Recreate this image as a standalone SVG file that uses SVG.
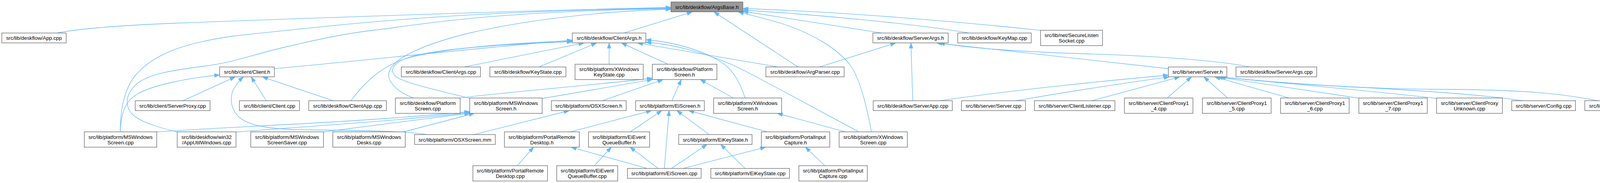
<svg xmlns="http://www.w3.org/2000/svg" width="4246" height="469" viewBox="0 0 4246 469">
<style>
.node rect{fill:#ffffff;stroke:#666666;stroke-width:1.3}
.node.hl rect{fill:#999999}
.node text{font-family:"Liberation Sans",Arial,Helvetica,sans-serif;font-size:13.3px;text-anchor:middle;fill:#000000}
.edge path{fill:none;stroke:#63b8ff;stroke-width:1.3;marker-end:url(#arr)}
</style>
<defs>
<marker id="arr" markerUnits="userSpaceOnUse" markerWidth="13.2" markerHeight="9.3" refX="13.2" refY="4.65" orient="auto" viewBox="0 0 13.2 9.3" overflow="visible">
<path d="M0,0 L13.2,4.65 L0,9.3 Z" fill="#63b8ff" stroke="#63b8ff" stroke-width="1"/>
</marker>
</defs>
<rect x="0" y="0" width="4246" height="469" fill="#ffffff"/>
<g id="edges" class="edge">
<!-- into ArgsBase.h -->
<path d="M145,84.6 C180,78 260,67 446,59.5 C700,50 1300,28 1717.7,19"/>
<path d="M307.6,337.9 C308,280 318,230 345,195 C390,140 470,110 600,92 C900,60 1150,30 1717.7,20.5"/>
<path d="M456,339 C420,330 360,315 338,292 C318,270 322,240 350,215 C380,190 440,180 520,170 C600,160 640,142 720,123 C800,104 880,86 960,77 C1100,60 1250,30 1717.7,22"/>
<path d="M1058,251.2 C1010,232 990,205 996,185 C1005,150 1080,115 1200,85 C1350,50 1550,28 1717.7,23.5"/>
<path d="M1597,84.6 L1772,30.6"/>
<path d="M2042.8,171.6 L1828,30.6"/>
<path d="M2258,84.6 L1901.8,29"/>
<path d="M2481,84.6 C2350,62 2100,38 1901.8,26"/>
<path d="M2664,77.8 C2450,55 2150,30 1901.8,22"/>
<path d="M2231,337.9 C2222,290 2205,210 2180,172 C2150,128 2080,85 2000,60 C1960,48 1920,38 1890,30.6"/>
<!-- into ClientArgs.h -->
<path d="M702.5,176 C900,158 1250,120 1465.2,103"/>
<path d="M898.3,258.2 C930,215 970,175 1030,153 C1120,125 1300,110 1465.2,105"/>
<path d="M1203,252 C1120,231 1030,212 1012,195 C995,178 1010,158 1050,146 C1120,125 1300,112 1465.2,107"/>
<path d="M1188,171.6 L1495,110.2"/>
<path d="M1380,171.6 L1527,110.2"/>
<path d="M1559.35,164.6 L1559.35,110.2"/>
<path d="M1710,164.6 L1591,110.2"/>
<path d="M1992,171.6 L1632,110.2"/>
<path d="M1907.3,251.2 C1895,210 1875,175 1840,155 C1790,126 1720,107 1653.4,102"/>
<path d="M2198.7,337.9 C2100,285 1990,225 1900,178 C1820,138 1720,112 1653.4,108.5"/>
<!-- into ServerArgs.h -->
<path d="M2098,171.6 L2293,110.2"/>
<path d="M2336.6,258.2 L2332,110.2"/>
<path d="M2991,176 L2398,110.2"/>
<path d="M3199.5,171.6 C3120,155 2950,143 2780,138 C2600,132 2470,122 2405,110.2"/>
<!-- into Client.h -->
<path d="M307.6,337.9 C310,290 320,260 350,242 C390,218 480,200 562.4,192"/>
<path d="M468.3,258.2 L602,197.2"/>
<path d="M1093,344.9 C1050,337 950,334 800,333 C700,332 640,325 612,300 C588,278 588,245 600,225 C606,215 614,205 623,197.2"/>
<path d="M681.7,258.2 L643,197.2"/>
<path d="M853,258.2 L672,197.2"/>
<!-- into PlatformScreen.h -->
<path d="M1176,251.2 C1300,236 1500,220 1670,200.5"/>
<path d="M1388,252.5 L1670,203.9"/>
<path d="M1542,258.2 L1697,204.2"/>
<path d="M1720,258.2 L1744,204.2"/>
<path d="M1877.5,251.2 L1793,204.2"/>
<!-- into Server.h -->
<path d="M2405,258.2 C2600,230 2850,205 2991,192.5"/>
<path d="M2600.5,258.2 C2750,232 2900,210 2993,197.2"/>
<path d="M2795,258.2 L3020,197.2"/>
<path d="M2988,251.2 L3050,197.2"/>
<path d="M3143,251.2 L3082,197.2"/>
<path d="M3300,251.2 L3110,197.2"/>
<path d="M3478.6,251.5 L3116,197.2"/>
<path d="M3677.6,252 C3500,232 3250,210 3120,197.2"/>
<path d="M3897,258.2 C3800,242 3600,230 3450,222 C3300,214 3180,203 3122,197.2"/>
<path d="M4090,258.2 C4000,240 3900,230 3700,229 C3450,228 3250,210 3124,197.2"/>
<!-- into MSWindowsScreen.h -->
<path d="M401.3,338 C600,324 900,315 1202.5,286"/>
<path d="M604.2,338.5 C800,322 1000,312 1202.5,288"/>
<path d="M828.1,338 L1202.5,290"/>
<path d="M1033,338 L1214,290.5"/>
<!-- into OSXScreen.h -->
<path d="M1213.3,344.9 L1457,283.5"/>
<!-- into EiScreen.h -->
<path d="M1460,337.9 L1668,283.5"/>
<path d="M1613.5,337.9 L1694,283.5"/>
<path d="M1700.7,431.6 L1713,283.5"/>
<path d="M1815.5,344.9 L1733,283.5"/>
<path d="M1964.7,337.9 L1763,283.5"/>
<!-- into XWindowsScreen.h -->
<path d="M2164,337.9 L1990,290.5"/>
<!-- into PortalRemoteDesktop.h -->
<path d="M1324.4,424.6 L1366,377.2"/>
<path d="M1657,431.6 L1462,377.2"/>
<!-- into EiEventQueueBuffer.h -->
<path d="M1521.7,424.6 L1565,377.2"/>
<path d="M1684.7,431.6 L1613,377.2"/>
<!-- into EiKeyState.h -->
<path d="M1719,431.6 L1810,370.2"/>
<path d="M1907.3,431.6 L1845,370.2"/>
<!-- into PortalInputCapture.h -->
<path d="M1749,431.6 L1960,377.2"/>
<path d="M2111.7,424.6 L2062,377.2"/>
</g>
<!-- Row A -->
<g id="n_argsbase" class="node hl"><rect x="1717.7" y="5" width="184.1" height="25.3"/><text x="1809.75" y="22.65">src/lib/deskflow/ArgsBase.h</text></g>
<!-- Row B -->
<g id="n_app" class="node"><rect x="4.6" y="84.6" width="164.8" height="25.3"/><text x="87" y="102.25">src/lib/deskflow/App.cpp</text></g>
<g id="n_clientargs_h" class="node"><rect x="1465.2" y="84.6" width="188.2" height="25.3"/><text x="1559.3" y="102.25">src/lib/deskflow/ClientArgs.h</text></g>
<g id="n_serverargs_h" class="node"><rect x="2234.5" y="84.6" width="192.9" height="25.3"/><text x="2330.95" y="102.25">src/lib/deskflow/ServerArgs.h</text></g>
<g id="n_keymap" class="node"><rect x="2451.7" y="84.6" width="188.3" height="25.3"/><text x="2545.85" y="102.25">src/lib/deskflow/KeyMap.cpp</text></g>
<g id="n_securelisten" class="node"><rect x="2663.8" y="77.6" width="158.7" height="39.3"/><text x="2743.15" y="95.25">src/lib/net/SecureListen<tspan x="2743.15" y="109.25">Socket.cpp</tspan></text></g>
<!-- Row C -->
<g id="n_client_h" class="node"><rect x="562.4" y="171.6" width="140.1" height="25.3"/><text x="632.45" y="189.25">src/lib/client/Client.h</text></g>
<g id="n_clientargs_cpp" class="node"><rect x="1027.4" y="171.6" width="202.5" height="25.3"/><text x="1128.65" y="189.25">src/lib/deskflow/ClientArgs.cpp</text></g>
<g id="n_keystate" class="node"><rect x="1254.2" y="171.6" width="194.5" height="25.3"/><text x="1351.45" y="189.25">src/lib/deskflow/KeyState.cpp</text></g>
<g id="n_xwkeystate" class="node"><rect x="1472.1" y="164.6" width="174.5" height="39.3"/><text x="1559.35" y="182.25">src/lib/platform/XWindows<tspan x="1559.35" y="196.25">KeyState.cpp</tspan></text></g>
<g id="n_platformscreen_h" class="node"><rect x="1670" y="164.6" width="165.3" height="39.3"/><text x="1752.65" y="182.25">src/lib/deskflow/Platform<tspan x="1752.65" y="196.25">Screen.h</tspan></text></g>
<g id="n_argparser" class="node"><rect x="1960.6" y="171.6" width="200.4" height="25.3"/><text x="2060.8" y="189.25">src/lib/deskflow/ArgParser.cpp</text></g>
<g id="n_server_h" class="node"><rect x="2991" y="171.6" width="149.7" height="25.3"/><text x="3065.85" y="189.25">src/lib/server/Server.h</text></g>
<g id="n_serverargs_cpp" class="node"><rect x="3164.1" y="171.6" width="206.6" height="25.3"/><text x="3267.4" y="189.25">src/lib/deskflow/ServerArgs.cpp</text></g>
<!-- Row D -->
<g id="n_serverproxy" class="node"><rect x="346.2" y="258.2" width="191.5" height="25.3"/><text x="441.95" y="275.85">src/lib/client/ServerProxy.cpp</text></g>
<g id="n_client_cpp" class="node"><rect x="613" y="258.2" width="153.6" height="25.3"/><text x="689.8" y="275.85">src/lib/client/Client.cpp</text></g>
<g id="n_clientapp" class="node"><rect x="790.4" y="258.2" width="198.9" height="25.3"/><text x="889.85" y="275.85">src/lib/deskflow/ClientApp.cpp</text></g>
<g id="n_platformscreen_cpp" class="node"><rect x="1012.2" y="251.2" width="165.8" height="39.3"/><text x="1095.1" y="268.85">src/lib/deskflow/Platform<tspan x="1095.1" y="282.85">Screen.cpp</tspan></text></g>
<g id="n_mswscreen_h" class="node"><rect x="1202.5" y="251.2" width="185.5" height="39.3"/><text x="1295.25" y="268.85">src/lib/platform/MSWindows<tspan x="1295.25" y="282.85">Screen.h</tspan></text></g>
<g id="n_osxscreen_h" class="node"><rect x="1411.5" y="258.2" width="191.5" height="25.3"/><text x="1507.25" y="275.85">src/lib/platform/OSXScreen.h</text></g>
<g id="n_eiscreen_h" class="node"><rect x="1627.3" y="258.2" width="175.8" height="25.3"/><text x="1715.2" y="275.85">src/lib/platform/EiScreen.h</text></g>
<g id="n_xwscreen_h" class="node"><rect x="1827" y="251.2" width="174" height="39.3"/><text x="1914" y="268.85">src/lib/platform/XWindows<tspan x="1914" y="282.85">Screen.h</tspan></text></g>
<g id="n_serverapp" class="node"><rect x="2235.4" y="258.2" width="202.5" height="25.3"/><text x="2336.65" y="275.85">src/lib/deskflow/ServerApp.cpp</text></g>
<g id="n_server_cpp" class="node"><rect x="2461.4" y="258.2" width="163.9" height="25.3"/><text x="2543.35" y="275.85">src/lib/server/Server.cpp</text></g>
<g id="n_clientlistener" class="node"><rect x="2648.2" y="258.2" width="206" height="25.3"/><text x="2751.2" y="275.85">src/lib/server/ClientListener.cpp</text></g>
<g id="n_cp14" class="node"><rect x="2878.5" y="251.2" width="175.4" height="39.3"/><text x="2966.2" y="268.85">src/lib/server/ClientProxy1<tspan x="2966.2" y="282.85">_4.cpp</tspan></text></g>
<g id="n_cp15" class="node"><rect x="3078.2" y="251.2" width="175.9" height="39.3"/><text x="3166.15" y="268.85">src/lib/server/ClientProxy1<tspan x="3166.15" y="282.85">_5.cpp</tspan></text></g>
<g id="n_cp16" class="node"><rect x="3278.4" y="251.2" width="175.4" height="39.3"/><text x="3366.1" y="268.85">src/lib/server/ClientProxy1<tspan x="3366.1" y="282.85">_6.cpp</tspan></text></g>
<g id="n_cp17" class="node"><rect x="3478.6" y="251.2" width="175.2" height="39.3"/><text x="3566.2" y="268.85">src/lib/server/ClientProxy1<tspan x="3566.2" y="282.85">_7.cpp</tspan></text></g>
<g id="n_cpunknown" class="node"><rect x="3677.6" y="251.2" width="168.6" height="39.3"/><text x="3761.9" y="268.85">src/lib/server/ClientProxy<tspan x="3761.9" y="282.85">Unknown.cpp</tspan></text></g>
<g id="n_config" class="node"><rect x="3870" y="258.2" width="163.3" height="25.3"/><text x="3951.65" y="275.85">src/lib/server/Config.cpp</text></g>
<g id="n_inputfilter" class="node"><rect x="4057.1" y="258.2" width="184.3" height="25.3"/><text x="4149.25" y="275.85">src/lib/server/InputFilter.cpp</text></g>
<!-- Row E -->
<g id="n_mswscreen_cpp" class="node"><rect x="215.8" y="337.9" width="185.5" height="39.3"/><text x="308.55" y="355.55">src/lib/platform/MSWindows<tspan x="308.55" y="369.55">Screen.cpp</tspan></text></g>
<g id="n_apputil" class="node"><rect x="453.6" y="337.9" width="150.6" height="39.3"/><text x="528.9" y="355.55">src/lib/deskflow/win32<tspan x="528.9" y="369.55">/AppUtilWindows.cpp</tspan></text></g>
<g id="n_mswsaver" class="node"><rect x="641.9" y="337.9" width="186.2" height="39.3"/><text x="735" y="355.55">src/lib/platform/MSWindows<tspan x="735" y="369.55">ScreenSaver.cpp</tspan></text></g>
<g id="n_mswdesks" class="node"><rect x="852" y="337.9" width="185.5" height="39.3"/><text x="944.75" y="355.55">src/lib/platform/MSWindows<tspan x="944.75" y="369.55">Desks.cpp</tspan></text></g>
<g id="n_osxscreen_mm" class="node"><rect x="1061.4" y="344.9" width="206.6" height="25.3"/><text x="1164.7" y="362.55">src/lib/platform/OSXScreen.mm</text></g>
<g id="n_prd_h" class="node"><rect x="1291.4" y="337.9" width="191.7" height="39.3"/><text x="1387.25" y="355.55">src/lib/platform/PortalRemote<tspan x="1387.25" y="369.55">Desktop.h</tspan></text></g>
<g id="n_eqb_h" class="node"><rect x="1506.5" y="337.9" width="156.6" height="39.3"/><text x="1584.8" y="355.55">src/lib/platform/EiEvent<tspan x="1584.8" y="369.55">QueueBuffer.h</tspan></text></g>
<g id="n_eks_h" class="node"><rect x="1737.5" y="344.9" width="187.8" height="25.3"/><text x="1831.4" y="362.55">src/lib/platform/EiKeyState.h</text></g>
<g id="n_pic_h" class="node"><rect x="1949.1" y="337.9" width="175.2" height="39.3"/><text x="2036.7" y="355.55">src/lib/platform/PortalInput<tspan x="2036.7" y="369.55">Capture.h</tspan></text></g>
<g id="n_xwscreen_cpp" class="node"><rect x="2148.2" y="337.9" width="174.5" height="39.3"/><text x="2235.45" y="355.55">src/lib/platform/XWindows<tspan x="2235.45" y="369.55">Screen.cpp</tspan></text></g>
<!-- Row F -->
<g id="n_prd_cpp" class="node"><rect x="1210.6" y="424.6" width="191" height="39.3"/><text x="1306.1" y="442.25">src/lib/platform/PortalRemote<tspan x="1306.1" y="456.25">Desktop.cpp</tspan></text></g>
<g id="n_eqb_cpp" class="node"><rect x="1425.3" y="424.6" width="156.1" height="39.3"/><text x="1503.35" y="442.25">src/lib/platform/EiEvent<tspan x="1503.35" y="456.25">QueueBuffer.cpp</tspan></text></g>
<g id="n_eiscreen_cpp" class="node"><rect x="1606.2" y="431.6" width="188.7" height="25.3"/><text x="1700.55" y="449.25">src/lib/platform/EiScreen.cpp</text></g>
<g id="n_eks_cpp" class="node"><rect x="1819.7" y="431.6" width="201.5" height="25.3"/><text x="1920.45" y="449.25">src/lib/platform/EiKeyState.cpp</text></g>
<g id="n_pic_cpp" class="node"><rect x="2045.1" y="424.6" width="175.2" height="39.3"/><text x="2132.7" y="442.25">src/lib/platform/PortalInput<tspan x="2132.7" y="456.25">Capture.cpp</tspan></text></g>
</svg>
